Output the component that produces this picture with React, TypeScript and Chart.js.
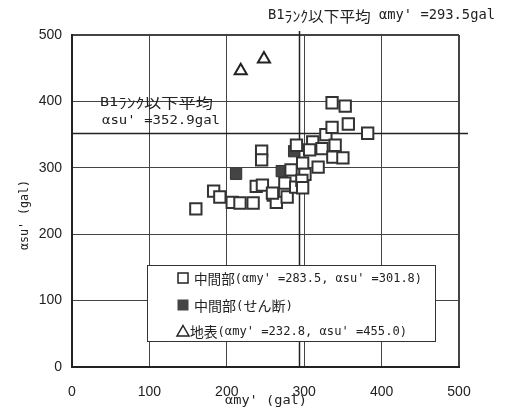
import React, { useEffect, useRef } from "react";
import { Chart, registerables } from "chart.js";

Chart.register(...registerables);

// ---- data ----
const axisMin = 0;
const axisMax = 500;
const tickStep = 100;

// 中間部 (open squares)
const midX = [160, 183, 191, 207, 217, 234, 238, 246, 245, 245, 260, 264, 278, 275, 283, 289, 298, 301, 290, 311, 307, 323, 328, 336, 340, 337, 350, 318, 357, 382, 336, 353, 297, 298, 259];
const midY = [238, 265, 256, 248, 247, 247, 272, 274, 325, 312, 259, 248, 256, 277, 297, 271, 307, 290, 334, 339, 327, 329, 350, 361, 334, 316, 315, 301, 366, 352, 398, 393, 281, 270, 262];

// 中間部 (せん断) (filled squares)
const shearX = [212, 271, 287];
const shearY = [291, 295, 325];

// 地表 (triangles)
const surfX = [218, 248];
const surfY = [446, 464];

// reference averages
const avgMy = 293.5;
const avgSu = 352.9;

const seriesLabels = [
  "中間部(αmy' =283.5, αsu' =301.8)",
  "中間部(せん断)",
  "地表(αmy' =232.8, αsu' =455.0)",
];
const topNote = "B1ﾗﾝｸ以下平均 αmy' =293.5gal";
const leftNote1 = "B1ﾗﾝｸ以下平均";
const leftNote2 = "αsu' =352.9gal";
const xTitle = "αmy' (gal)";
const yTitle = "αsu' (gal)";

const TICK_FONT = "'Liberation Sans', Arial, sans-serif";
const LATIN = "'DejaVu Sans Mono', monospace";
const CJK = "'Noto Sans CJK JP', sans-serif";
const INK = "#222";
const GRID = "#444";

const pts = (xs: number[], ys: number[]) => xs.map((x, i) => ({ x, y: ys[i] }));

const isCJK = (ch: string) => /[\u3000-\u30ff\u4e00-\u9fff\uff00-\uffef]/.test(ch);

// draw mixed-script text, left-aligned at (x, y middle), horizontally fitted to width w
function drawFit(ctx: CanvasRenderingContext2D, text: string, x: number, y: number, w: number, size: number) {
  const runs: { t: string; f: string }[] = [];
  for (const ch of text) {
    const f = isCJK(ch) ? `${size}px ${CJK}` : `${Math.round(size * 0.88 * 10) / 10}px ${LATIN}`;
    if (runs.length && runs[runs.length - 1].f === f) runs[runs.length - 1].t += ch;
    else runs.push({ t: ch, f });
  }
  let total = 0;
  const widths = runs.map((r) => {
    ctx.font = r.f;
    const m = ctx.measureText(r.t).width;
    total += m;
    return m;
  });
  ctx.save();
  ctx.translate(x, y);
  ctx.scale(w / total, 1);
  ctx.textAlign = "left";
  ctx.textBaseline = "middle";
  let cx = 0;
  runs.forEach((r, i) => {
    ctx.font = r.f;
    ctx.fillText(r.t, cx, 0);
    cx += widths[i];
  });
  ctx.restore();
}

const overlay = {
  id: "overlay",
  beforeDatasetsDraw(chart: any) {
    const { ctx, scales } = chart;
    const xs = scales.x;
    const ys = scales.y;
    ctx.save();
    ctx.strokeStyle = INK;
    ctx.lineWidth = 1.5;
    // vertical average line, rising above the frame
    const vx = Math.round(xs.getPixelForValue(avgMy)) + 0.5;
    ctx.beginPath();
    ctx.moveTo(vx, ys.getPixelForValue(axisMax) - 4);
    ctx.lineTo(vx, ys.getPixelForValue(axisMin));
    ctx.stroke();
    // horizontal average line, extending past the right frame
    const hy = Math.round(ys.getPixelForValue(avgSu)) + 0.5;
    ctx.beginPath();
    ctx.moveTo(xs.getPixelForValue(axisMin), hy);
    ctx.lineTo(xs.getPixelForValue(axisMax) + 9, hy);
    ctx.stroke();

    // notes
    ctx.fillStyle = INK;
    drawFit(ctx, topNote, 268, 16, 227, 15);
    drawFit(ctx, leftNote1, 100, 103, 113, 14);
    drawFit(ctx, leftNote2, 102, 121, 118, 14);
    ctx.restore();
  },
  afterDraw(chart: any) {
    const { ctx } = chart;
    ctx.save();
    ctx.fillStyle = INK;
    // axis titles
    drawFit(ctx, xTitle, 225, 401, 82, 14);
    ctx.save();
    ctx.translate(25, 215);
    ctx.rotate(-Math.PI / 2);
    drawFit(ctx, yTitle, -35, 0, 70, 13);
    ctx.restore();
    ctx.restore();

    // legend box
    ctx.save();
    const bx = 147, by = 265, bw = 288, bh = 76;
    ctx.fillStyle = "#fff";
    ctx.fillRect(bx, by, bw, bh);
    ctx.strokeStyle = "#333";
    ctx.lineWidth = 1;
    ctx.strokeRect(bx + 0.5, by + 0.5, bw, bh);
    const rows = [278, 305, 331];
    const sx = 183;
    ctx.lineWidth = 1.5;
    ctx.strokeStyle = INK;
    // open square
    ctx.fillStyle = "#fff";
    ctx.fillRect(sx - 5, rows[0] - 5, 10, 10);
    ctx.strokeRect(sx - 5, rows[0] - 5, 10, 10);
    // filled square
    ctx.fillStyle = "#444";
    ctx.fillRect(sx - 5.5, rows[1] - 5.5, 11, 11);
    // triangle
    ctx.beginPath();
    ctx.moveTo(sx, rows[2] - 5.5);
    ctx.lineTo(sx + 6, rows[2] + 5);
    ctx.lineTo(sx - 6, rows[2] + 5);
    ctx.closePath();
    ctx.stroke();
    ctx.fillStyle = INK;
    drawFit(ctx, seriesLabels[0], 194, rows[0] + 1, 228, 14);
    drawFit(ctx, seriesLabels[1], 194, rows[1] + 1, 99, 14);
    drawFit(ctx, seriesLabels[2], 190, rows[2] + 1, 217, 14);
    ctx.restore();
  },
};

export default function App() {
  const ref = useRef<HTMLCanvasElement | null>(null);
  useEffect(() => {
    if (!ref.current) return;
    const gridWidth = (c: any) => (c.tick && c.tick.value === axisMax ? 2 : 1);
    const chart = new Chart(ref.current, {
      type: "scatter",
      data: {
        datasets: [
          {
            label: seriesLabels[0],
            data: pts(midX, midY),
            pointStyle: "rect",
            pointRadius: 8,
            pointHoverRadius: 8,
            borderWidth: 2,
            borderColor: "#333",
            backgroundColor: "#fff",
            order: 0,
          },
          {
            label: seriesLabels[1],
            data: pts(shearX, shearY),
            pointStyle: "rect",
            pointRadius: 8,
            pointHoverRadius: 8,
            borderWidth: 1,
            borderColor: "#333",
            backgroundColor: "#444",
            order: 1,
          },
          {
            label: seriesLabels[2],
            data: pts(surfX, surfY),
            pointStyle: "triangle",
            pointRadius: 7,
            pointHoverRadius: 7,
            borderWidth: 2,
            borderColor: "#222",
            backgroundColor: "#fff",
            order: 2,
          },
        ],
      },
      options: {
        responsive: false,
        animation: false,
        devicePixelRatio: 1,
        layout: { padding: { top: 35, right: 47, left: 0, bottom: 0 } },
        plugins: { legend: { display: false }, tooltip: { enabled: false } },
        scales: {
          x: {
            type: "linear",
            min: axisMin,
            max: axisMax,
            afterFit: (s: any) => { s.height = 40; },
            ticks: { stepSize: tickStep, color: INK, font: { family: TICK_FONT, size: 14 }, padding: 17 },
            grid: { color: GRID, lineWidth: gridWidth, drawTicks: false },
            border: { display: true, color: INK, width: 2 },
          },
          y: {
            type: "linear",
            min: axisMin,
            max: axisMax,
            afterFit: (s: any) => { s.width = 72; },
            ticks: { stepSize: tickStep, color: INK, font: { family: TICK_FONT, size: 14 }, padding: 10 },
            grid: { color: GRID, lineWidth: gridWidth, drawTicks: false },
            border: { display: true, color: INK, width: 2 },
          },
        },
      },
      plugins: [overlay],
    });
    return () => chart.destroy();
  }, []);
  return (
    <div style={{ position: "absolute", left: 0, top: 0, width: 506, height: 407, background: "#fff" }}>
      <canvas ref={ref} width={506} height={407} />
    </div>
  );
}
